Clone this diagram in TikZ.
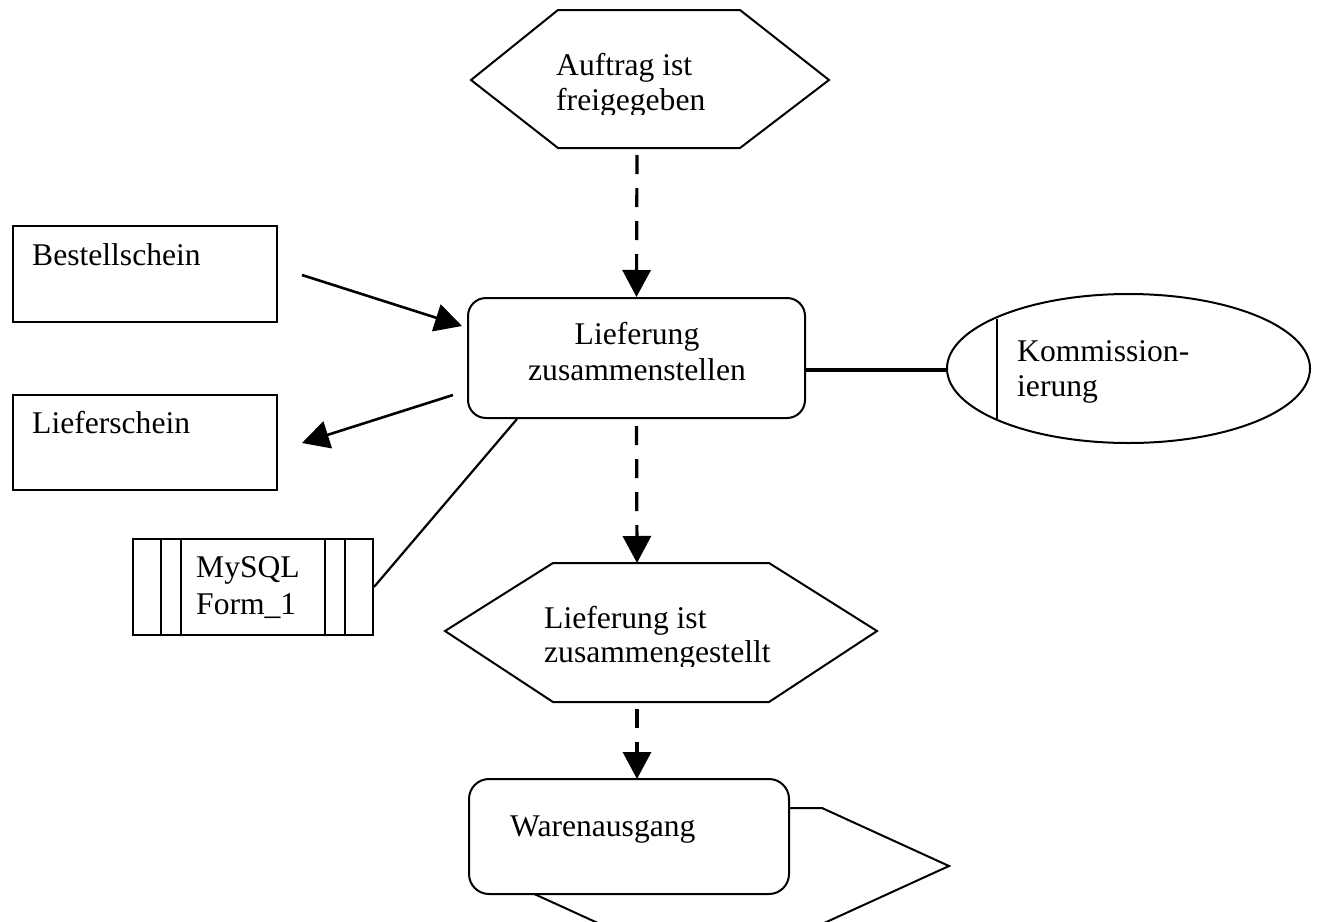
\documentclass[tikz,border=0pt]{standalone}
\usepackage{fontspec}
\setmainfont{Liberation Serif}
\usetikzlibrary{arrows.meta,shapes.geometric}
\begin{document}
\begin{tikzpicture}[x=1pt,y=-1pt,
  outline/.style={draw=black,line width=2pt},
  box/.style={outline,rectangle,inner sep=0pt,fill=white},
  rbox/.style={box,rounded corners=18pt},
  txt/.style={inner sep=0pt,anchor=base west,font=\fontsize{31.6}{35}\selectfont},
  ctxt/.style={txt,anchor=base},
  tip/.style={-{Triangle[length=27pt,width=28pt]}},
  flow/.style={tip,line width=3.2pt,dash pattern=on 19pt off 14pt,dash phase=26pt},
  dataarrow/.style={tip,line width=2.6pt},
  link/.style={line width=2.2pt},
  thicklink/.style={line width=3.2pt}]
\useasboundingbox (0,0) rectangle (1317,921);
\clip (0,0) rectangle (1317,921);

% top event
\draw[outline,line join=miter] (471,80) -- (558,10) -- (740,10) -- (829,80) -- (740,148) -- (558,148) -- cycle;
\begin{scope}
\clip (540,20) rectangle (800,114);
\node[txt] (ev1) at (556,75) {\begin{tabular}[t]{@{}l@{}}Auftrag ist\\freigegeben\end{tabular}};
\end{scope}
\coordinate (ev1S) at (637,148);

% main function
\node[rbox,minimum width=337pt,minimum height=120pt] (main) at (636.5,358) {};
\node[ctxt,font=\fontsize{31.6}{36}\selectfont] (mainT) at (637,344) {\begin{tabular}[t]{@{}c@{}}Lieferung\\zusammenstellen\end{tabular}};

% documents
\node[box,minimum width=264pt,minimum height=96pt] (bs) at (145,274) {};
\node[txt] (bsT) at (32,265) {Bestellschein};
\node[box,minimum width=264pt,minimum height=95pt] (ls) at (145,442.5) {};
\node[txt] (lsT) at (32,433) {Lieferschein};

% MySQL system
\node[box,minimum width=240pt,minimum height=96pt] (sql) at (253,587) {};
\draw[outline] (161,539) -- (161,635) (181,539) -- (181,635) (325,539) -- (325,635) (345,539) -- (345,635);
\node[txt,font=\fontsize{31.6}{37}\selectfont] (sqlT) at (196,577) {\begin{tabular}[t]{@{}l@{}}MySQL\\Form\_1\end{tabular}};

% organisational unit
\node[outline,ellipse,inner sep=0pt,minimum width=363pt,minimum height=149pt] (org) at (1128.5,368.5) {};
\draw[outline] (997,319) -- (997,419);
\node[txt,font=\fontsize{31.6}{35}\selectfont] (orgT) at (1017,361) {\begin{tabular}[t]{@{}l@{}}Kommission-\\ierung\end{tabular}};

% second event
\draw[outline,line join=miter] (445,631) -- (553,563) -- (769,563) -- (877,631) -- (769,702) -- (553,702) -- cycle;
\begin{scope}
\clip (530,590) rectangle (800,666);
\node[txt,font=\fontsize{31.6}{34}\selectfont] (ev2) at (544,628) {\begin{tabular}[t]{@{}l@{}}Lieferung ist\\zusammengestellt\end{tabular}};
\end{scope}
\coordinate (ev2N) at (637,563);
\coordinate (ev2S) at (637,702);

% process interface (behind)
\draw[outline,line join=miter] (473,866) -- (600,808) -- (822,808) -- (949,866) -- (822,924) -- (600,924) -- cycle;
\node[rbox,rounded corners=20pt,minimum width=320pt,minimum height=115pt] (wa) at (629,836.5) {};
\node[txt] (waT) at (510,836) {Warenausgang};
\coordinate (waN) at (637,779);

% connector end points
\coordinate (bsOut) at (302,275);
\coordinate (mainIn) at (462,326);
\coordinate (mainOut) at (453,395);
\coordinate (lsIn) at (302,443);
\coordinate (mainSW) at (517,419);
\coordinate (mainE) at (805,370);
\coordinate (orgW) at (947,370);

% connectors
\draw[flow] (ev1S) -- (main.north);
\draw[flow] (main.south) -- (ev2N);
\draw[flow] (ev2S) -- (waN);
\draw[dataarrow] (bsOut) -- (mainIn);
\draw[dataarrow] (mainOut) -- (lsIn);
\draw[link] (mainSW) -- (sql.east);
\draw[thicklink] (mainE) -- (orgW);
\end{tikzpicture}
\end{document}
